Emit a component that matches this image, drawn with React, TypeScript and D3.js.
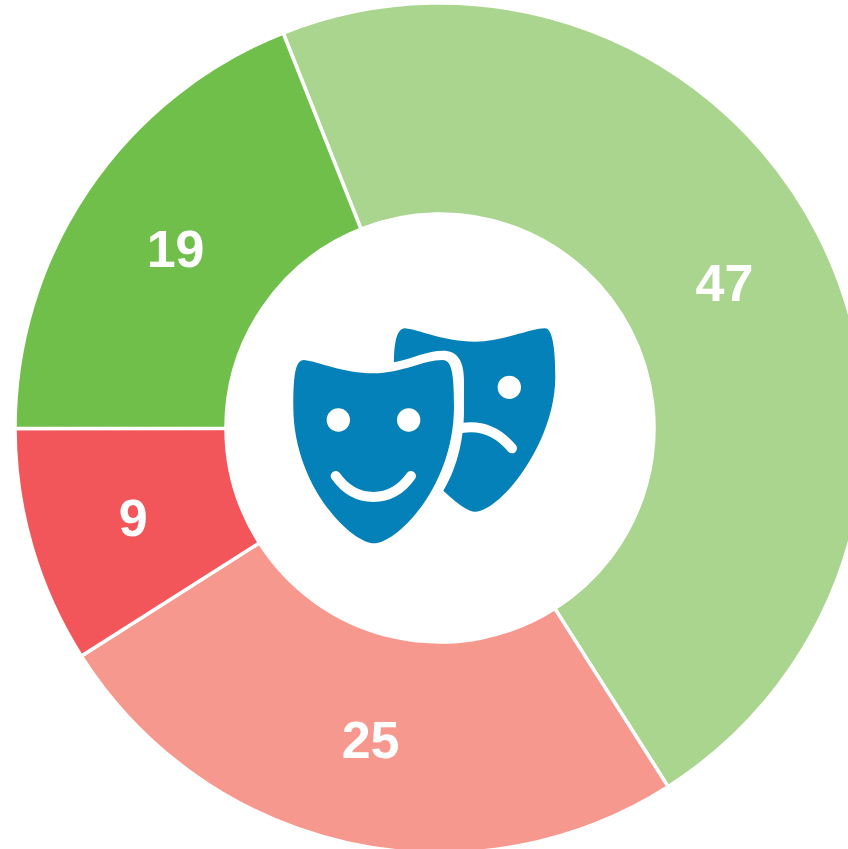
import React from "react";
import * as d3 from "d3";

const categories = ["A", "B", "C", "D"];
const seriesValues = [47, 25, 9, 19];
const colors = ["#aad58e", "#f7988e", "#f2565a", "#70bf4b"];
const labels = ["47", "25", "9", "19"];

const cx = 440, cy = 428, R = 425, r = 214;

const backMask = "M342,157 C342,100 350,55 375,55 C420,60 490,95 585,95 C670,95 750,55 795,55 C820,55 826,130 826,200 C826,400 660,605 585,605 C560,605 520,570 490,542 C525,485 552,400 552,300 L552,210 C552,150 530,122 490,122 C440,122 400,145 342,157 Z";
const frontMask = "M72,150 C115,155 190,190 280,190 C365,190 430,150 488,150 C515,150 522,190 522,290 C522,530 350,700 282,700 C215,700 40,530 40,290 C40,200 45,150 72,150 Z";
const smile = "M167,498 C195,538 235,561 280,561 C325,561 365,538 393,498";
const frown = "M545,354 C600,345 650,360 696,415";
const eyes: [number, number][] = [[175, 330], [386, 330], [688, 232]];

export default function App() {
  const pie = d3.pie<number>().sort(null).startAngle(-0.378).endAngle(2 * Math.PI - 0.378);
  const arcs = pie(seriesValues);
  const arc = d3.arc<any>().innerRadius(r).outerRadius(R);
  return (
    <svg width={848} height={849} style={{ position: "fixed", left: 0, top: 0 }}>
      <g transform={`translate(${cx},${cy})`}>
        {arcs.map((a, i) => (
          <path key={categories[i]} d={arc(a)!} fill={colors[i]} stroke="#fff" strokeWidth={3.5} />
        ))}
      </g>
      <g fontFamily="Liberation Sans" fontWeight="bold" fontSize={52} fill="#fff" textAnchor="middle">
        {arcs.map((a, i) => {
          const [x, y] = arc.centroid(a);
          return <text key={labels[i]} x={cx + x} y={cy + y + 18.5}>{labels[i]}</text>;
        })}
      </g>
      <g transform="translate(280,310) scale(0.3333)">
        <path d={backMask} fill="#0481b9" />
        <path d={frontMask} fill="#0481b9" />
        {eyes.map(([x, y]) => <circle key={x} cx={x} cy={y} r={35} fill="#fff" />)}
        <path d={smile} fill="none" stroke="#fff" strokeWidth={30} strokeLinecap="round" />
        <path d={frown} fill="none" stroke="#fff" strokeWidth={30} strokeLinecap="round" />
      </g>
    </svg>
  );
}
